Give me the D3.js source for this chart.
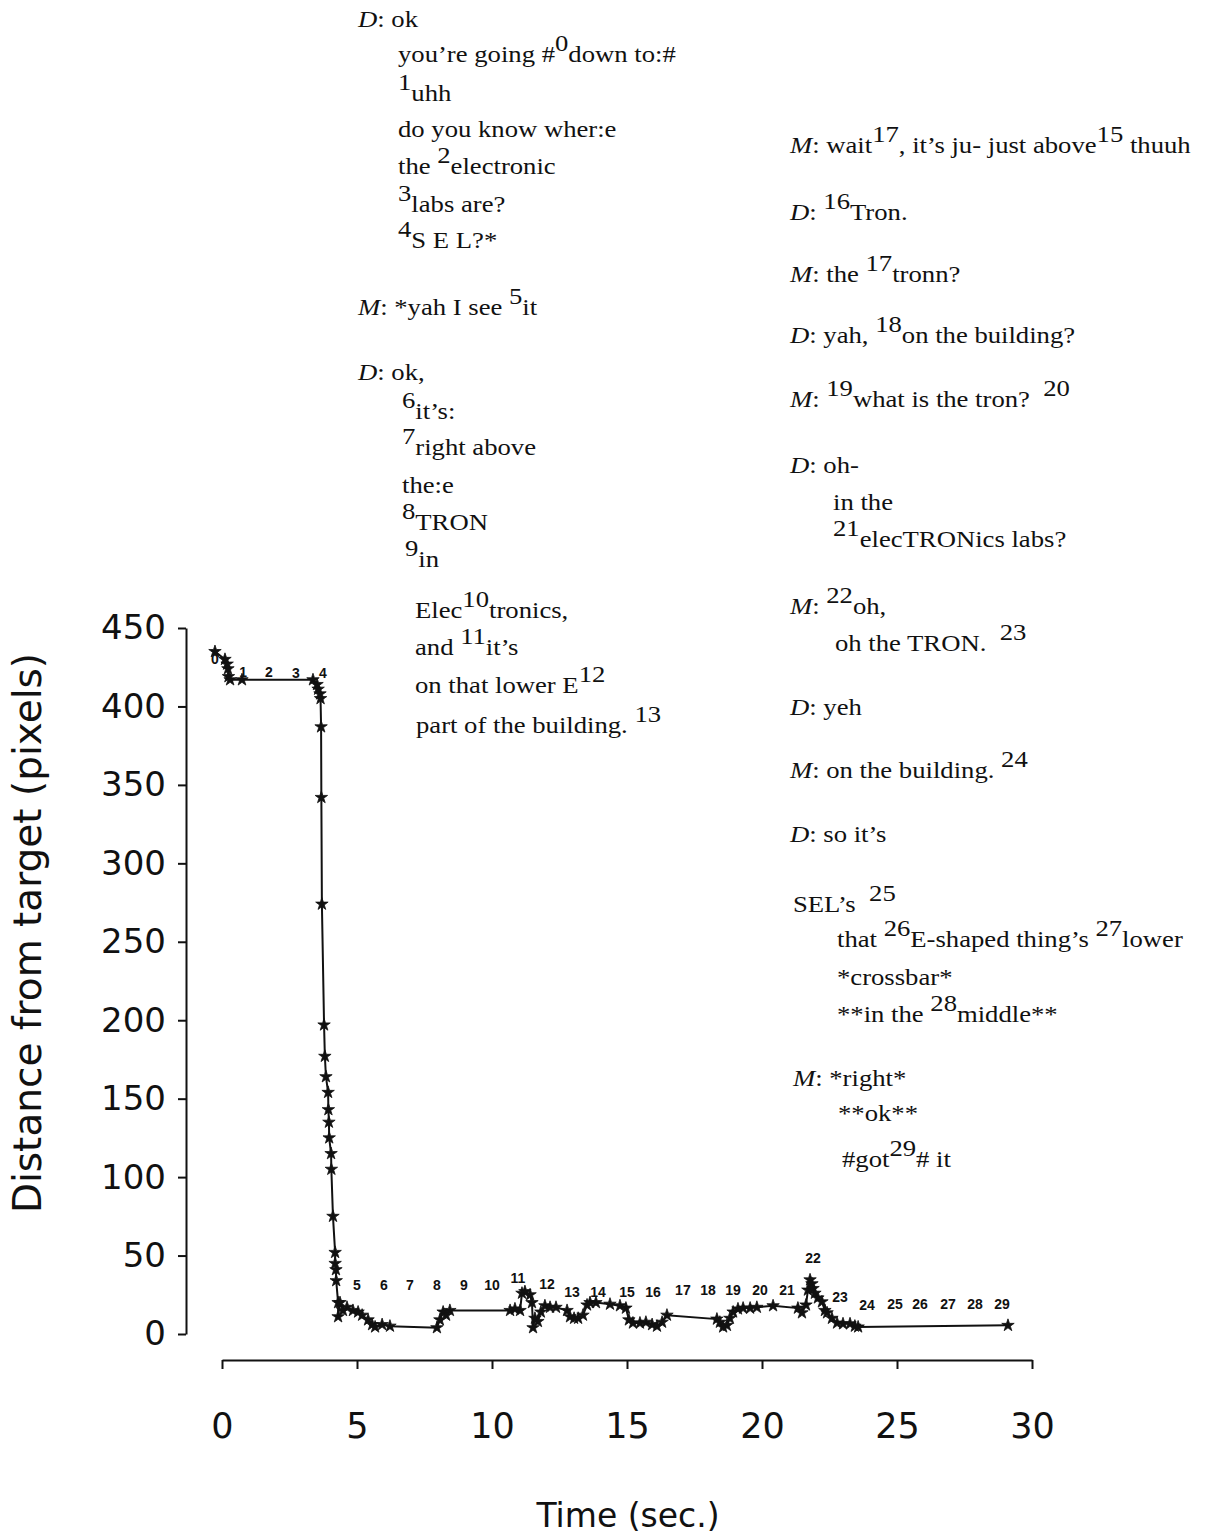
<!DOCTYPE html>
<html>
<head>
<meta charset="utf-8">
<script src="https://cdn.jsdelivr.net/npm/d3@7"></script>
<style>
  body { margin: 0; background: #fff; }
  .transcript text { font-family: "Liberation Serif", "Times New Roman", serif; font-size: 23px; white-space: pre; fill: #111; }
  .axis text { font-family: "DejaVu Sans", sans-serif; fill: #111; }
  .axis path, .axis line { stroke: #111; stroke-width: 2; }
</style>
</head>
<body>
<div id="chart"></div>
<script>
// cursor trace: time (sec.) and distance from target (pixels)
var timeSec = [-0.26, 0.11, 0.19, 0.22, 0.24, 0.30, 0.74, 3.37, 3.52, 3.56, 3.63, 3.65, 3.67, 3.68, 3.70,
  3.78, 3.81, 3.85, 3.93, 3.94, 3.96, 3.97, 4.04, 4.05, 4.11, 4.19, 4.19, 4.22, 4.23, 4.30, 4.30,
  4.37, 4.48, 4.63, 4.85, 5.04, 5.19, 5.41, 5.56, 5.67, 5.93, 6.22, 7.96, 8.07, 8.19, 8.30, 8.44,
  10.67, 10.85, 11.04, 11.11, 11.22, 11.41, 11.48, 11.52, 11.59, 11.70, 11.81, 11.96, 12.15, 12.37,
  12.78, 12.89, 13.04, 13.19, 13.37, 13.52, 13.63, 13.85, 14.37, 14.74, 14.96, 15.07, 15.22, 15.48,
  15.70, 15.93, 16.11, 16.30, 16.48, 18.33, 18.44, 18.56, 18.70, 18.81, 18.93, 19.11, 19.30, 19.56,
  19.81, 20.41, 21.33, 21.48, 21.63, 21.70, 21.78, 21.85, 21.89, 21.96, 22.07, 22.22, 22.33, 22.41,
  22.59, 22.78, 23.00, 23.26, 23.44, 23.56, 29.11];
var distPx = [435, 430, 427, 424, 419, 417, 417, 417, 414, 411, 408, 405, 387, 342, 274,
  197, 177, 164, 154, 143, 135, 125, 115, 105, 75, 52, 45, 41, 34, 20, 11,
  20, 15, 17, 15, 14, 12, 9, 6, 4.5, 6, 5, 4, 9, 14, 12, 15,
  15, 16, 15, 26, 27, 25, 20, 4, 10, 8, 14, 18, 17, 17,
  15, 11, 10, 10, 12, 18.5, 20, 20, 19, 18, 16.5, 9, 7, 7,
  7.5, 6, 5, 7.5, 12, 9.5, 7.5, 4.5, 5.5, 10, 14, 16, 16.5, 16.5,
  17, 18, 16.5, 13.5, 18.5, 28, 34.5, 32, 29, 26, 23, 20.5, 15, 13.5,
  10, 7, 6.5, 6.5, 5, 4.5, 5.5];

// numbered transcript markers placed on the trace
var markText = ["0","1","2","3","4","5","6","7","8","9","10","11","12","13","14","15","16","17","18","19",
  "20","21","22","23","24","25","26","27","28","29"];
var markTime = [-0.26, 0.78, 1.74, 2.74, 3.74, 5.0, 6.0, 6.96, 7.96, 8.96, 10.0, 10.96, 12.04, 12.96, 13.93,
  15.0, 15.96, 17.07, 18.0, 18.93, 19.93, 20.93, 21.89, 22.89, 23.89, 24.93, 25.85, 26.89, 27.89, 28.89];
var markDist = [430, 422, 422, 421, 421, 31, 31, 31, 31, 31, 31, 36, 32, 27, 27,
  27, 27, 28, 28, 28, 28, 28, 48.5, 23.6, 18.5, 19, 19, 19, 19, 19];

var xTicks = [0, 5, 10, 15, 20, 25, 30];
var yTicks = [0, 50, 100, 150, 200, 250, 300, 350, 400, 450];
var xTitle = "Time (sec.)";
var yTitle = "Distance from target (pixels)";

// _X_ = italic speaker, ^{n} = raised marker
var talkLeft = [
  "_D_: ok",
  "you\u2019re going #^{0}down to:#",
  "^{1}uhh",
  "do you know wher:e",
  "the ^{2}electronic",
  "^{3}labs are?",
  "^{4}S E L?*",
  "_M_: *yah I see ^{5}it",
  "_D_: ok,",
  "^{6}it\u2019s:",
  "^{7}right above",
  "the:e",
  "^{8}TRON",
  "^{9}in",
  "Elec^{10}tronics,",
  "and ^{11}it\u2019s",
  "on that lower E^{12}",
  "part of the building. ^{13}"
];
var talkRight = [
  "_M_: wait^{17}, it\u2019s ju- just above^{15} thuuh",
  "_D_: ^{16}Tron.",
  "_M_: the ^{17}tronn?",
  "_D_: yah, ^{18}on the building?",
  "_M_: ^{19}what is the tron?  ^{20}",
  "_D_: oh-",
  "in the",
  "^{21}elecTRONics labs?",
  "_M_: ^{22}oh,",
  "oh the TRON.  ^{23}",
  "_D_: yeh",
  "_M_: on the building. ^{24}",
  "_D_: so it\u2019s",
  "SEL\u2019s  ^{25}",
  "that ^{26}E-shaped thing\u2019s ^{27}lower",
  "*crossbar*",
  "**in the ^{28}middle**",
  "_M_: *right*",
  "**ok**",
  "#got^{29}# it"
];

var DistancePlot = function(view, plotWidth, plotHeight){
  const s = this;
  const
    X_LEFT = 222, X_RIGHT = 1032,
    Y_BOTTOM = 1334, Y_TOP = 628,
    Y_AXIS_X = 186, X_AXIS_Y = 1360,
    STAR_SIZE = 48,
    SUP_RISE = 11,
    TEXT_STRETCH = 1.16;   // the scanned type is wider than the font

  // baseline positions of each transcript line
  const LEFT_POS = [[358,27],[398,62],[398,101],[398,137],[398,174],[398,212],[398,248],[358,315],
    [358,380],[402,419],[402,455],[402,493],[402,530],[405,567],[415,618],[415,655],[415,693],[416,733]];
  const RIGHT_POS = [[790,153],[790,220],[790,282],[790,343],[790,407],[790,473],[833,510],[833,547],
    [790,614],[835,651],[790,715],[790,778],[790,842],[793,912],[837,947],[837,985],[837,1022],
    [793,1086],[838,1121],[842,1167]];

  var svg, x, y;

  s.init = function(){
    s.putToView();
    s.drawAxes();
    s.drawTrace();
    s.drawMarks();
    s.drawTalk(talkLeft, LEFT_POS);
    s.drawTalk(talkRight, RIGHT_POS);
  }

  s.putToView = function(){
    svg = d3.select(view)
      .append("svg")
      .attr("width", plotWidth)
      .attr("height", plotHeight);
    x = d3.scaleLinear().domain([0, 30]).range([X_LEFT, X_RIGHT]);
    y = d3.scaleLinear().domain([0, 450]).range([Y_BOTTOM, Y_TOP]);
  }

  s.drawAxes = function(){
    var yAxis = d3.axisLeft(y).tickValues(yTicks).tickSize(8).tickSizeOuter(0).tickPadding(12);
    var xAxis = d3.axisBottom(x).tickValues(xTicks).tickSize(9).tickSizeOuter(0).tickPadding(44);
    svg.append("g")
      .attr("class", "axis")
      .attr("transform", "translate(" + Y_AXIS_X + ",0)")
      .call(yAxis)
      .selectAll("text").style("font-size", "34px");
    svg.append("g")
      .attr("class", "axis")
      .attr("transform", "translate(0," + X_AXIS_Y + ")")
      .call(xAxis)
      .selectAll("text").style("font-size", "35px");
    svg.selectAll(".axis text").attr("fill", "#111");

    svg.append("text")
      .attr("transform", "translate(41,933) rotate(-90)")
      .attr("text-anchor", "middle")
      .attr("fill", "#111")
      .style("font-family", "'DejaVu Sans', sans-serif")
      .style("font-size", "39px")
      .text(yTitle);
    svg.append("text")
      .attr("x", (X_LEFT + X_RIGHT) / 2 + 1)
      .attr("y", 1527)
      .attr("text-anchor", "middle")
      .attr("fill", "#111")
      .style("font-family", "'DejaVu Sans', sans-serif")
      .style("font-size", "33px")
      .text(xTitle);
  }

  s.drawTrace = function(){
    var pts = timeSec.map(function(t, i){ return {t: t, d: distPx[i]}; });
    var line = d3.line()
      .x(function(d){ return x(d.t); })
      .y(function(d){ return y(d.d); });
    svg.append("path")
      .datum(pts)
      .attr("d", line)
      .attr("fill", "none")
      .attr("stroke", "#111")
      .attr("stroke-width", 2);
    svg.selectAll(".star")
      .data(pts)
      .enter().append("path")
      .attr("class", "star")
      .attr("d", d3.symbol().type(d3.symbolStar).size(STAR_SIZE))
      .attr("transform", function(d){ return "translate(" + x(d.t) + "," + y(d.d) + ")"; })
      .attr("fill", "#111")
      .attr("stroke", "#111")
      .attr("stroke-width", 0.8);
  }

  s.drawMarks = function(){
    svg.selectAll(".mark")
      .data(markText)
      .enter().append("text")
      .attr("class", "mark")
      .attr("x", function(d, i){ return x(markTime[i]); })
      .attr("y", function(d, i){ return y(markDist[i]); })
      .attr("text-anchor", "middle")
      .attr("dominant-baseline", "central")
      .style("font-family", "'Liberation Sans', Arial, sans-serif")
      .style("font-weight", "bold")
      .style("font-size", "14px")
      .attr("fill", "#111")
      .text(function(d){ return d; });
  }

  // split "_D_: the ^{2}word" into pieces and lay them out as tspans
  s.drawTalk = function(lines, pos){
    var g = svg.append("g").attr("class", "transcript");
    lines.forEach(function(str, i){
      var t = g.append("text")
        .attr("transform", "translate(" + pos[i][0] + "," + pos[i][1] + ") scale(" + TEXT_STRETCH + ",1)");
      var parts = str.split(/(\^\{[^}]*\}|_[^_]+_)/).filter(function(p){ return p.length > 0; });
      var raised = false;
      parts.forEach(function(p){
        var span = t.append("tspan");
        if (p.charAt(0) == "^"){
          span.text(p.slice(2, -1)).attr("dy", raised ? 0 : -SUP_RISE);
          raised = true;
          return;
        }
        if (raised){ span.attr("dy", SUP_RISE); raised = false; }
        if (p.charAt(0) == "_" && p.length > 2){
          span.text(p.slice(1, -1)).style("font-style", "italic");
        } else {
          span.text(p);
        }
      });
    });
  }
}

var plot = new DistancePlot("#chart", 1206, 1538);
plot.init();
</script>
</body>
</html>
